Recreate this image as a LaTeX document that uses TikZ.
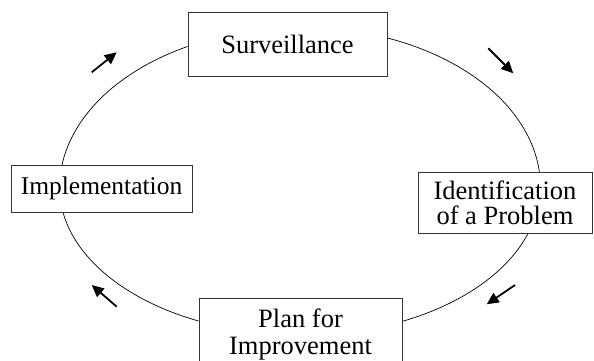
\documentclass[tikz,border=0pt]{standalone}
\usepackage{fontspec}
\setmainfont{Liberation Serif}
\usetikzlibrary{arrows.meta,backgrounds}
\begin{document}
\begin{tikzpicture}[x=1pt,y=1pt,
  box/.style={draw=black!80,line width=0.9pt,fill=white,inner sep=0pt,align=center},
  cyc/.style={line width=0.7pt},
  flow/.style={line width=1.8pt,-{Triangle[length=12pt,width=11pt]}}]
\useasboundingbox (0,0) rectangle (594,-361);
\node[box,minimum width=199pt,minimum height=64pt,font=\fontsize{26.5}{27}\selectfont] (surv) at (287.5,-44) {Surveillance};
\node[box,minimum width=181pt,minimum height=47pt,font=\fontsize{25.5}{27}\selectfont] (impl) at (101.5,-188.5) {Implementation};
\node[box,minimum width=174pt,minimum height=61pt,font=\fontsize{26.5}{25}\selectfont] (ident) at (505,-202.5) {Identification\\of a Problem};
\node[box,anchor=north,minimum width=203pt,inner ysep=10pt,font=\fontsize{26.5}{27}\selectfont] (plan) at (300.5,-298) {Plan for\\Improvement};
\begin{scope}[on background layer]
\draw[cyc] ([yshift=-2.5pt]surv.west) arc[start angle=117.8,end angle=174,x radius=240,y radius=160];
\draw[cyc] ([yshift=6pt]surv.east) arc[start angle=68.75,end angle=2,x radius=240,y radius=160];
\draw[cyc] ([xshift=23pt]ident.south) arc[start angle=342.2,end angle=290,x radius=240,y radius=147];
\draw[cyc] ([yshift=-23pt]plan.north west) arc[start angle=245.1,end angle=184,x radius=240,y radius=147];
\end{scope}
\coordinate (a1s) at (91.7,-72.3);  \coordinate (a1e) at (116.7,-52.3);
\coordinate (a2s) at (488.3,-48.3); \coordinate (a2e) at (513.3,-73.3);
\coordinate (a3s) at (515,-285);    \coordinate (a3e) at (486.7,-304.3);
\coordinate (a4s) at (116.7,-306.7); \coordinate (a4e) at (91.7,-285);
\draw[flow] (a1s) -- (a1e);
\draw[flow] (a2s) -- (a2e);
\draw[flow] (a3s) -- (a3e);
\draw[flow] (a4s) -- (a4e);
\end{tikzpicture}
\end{document}
